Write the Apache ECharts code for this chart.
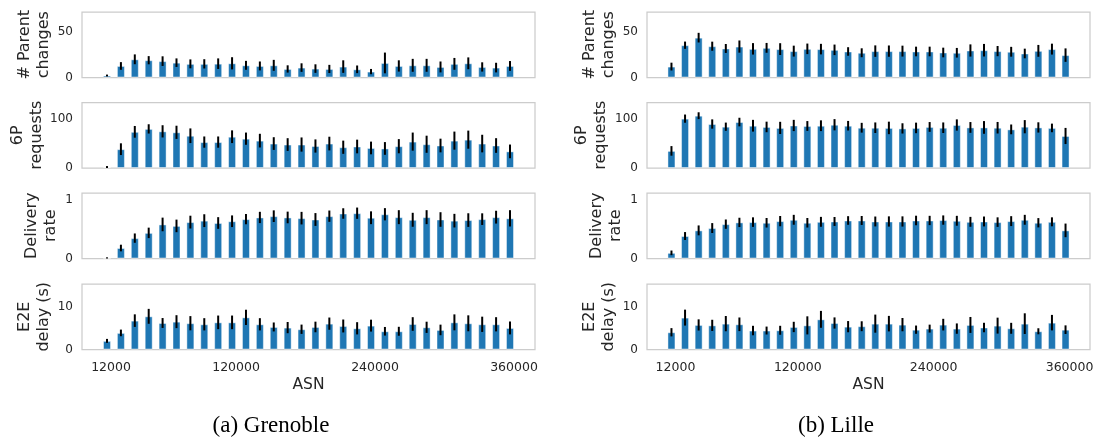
<!DOCTYPE html>
<html><head><meta charset="utf-8">
<script src="https://cdn.jsdelivr.net/npm/echarts@6/dist/echarts.min.js"></script>
<style>html,body{margin:0;padding:0;background:#fff}#c{width:1099px;height:440px}</style>
</head><body><div id="c"></div>
<script>
// ---------- data ----------
const asn = [12000, 24000, 36000, 48000, 60000, 72000, 84000, 96000, 108000, 120000,
  132000, 144000, 156000, 168000, 180000, 192000, 204000, 216000, 228000, 240000,
  252000, 264000, 276000, 288000, 300000, 312000, 324000, 336000, 348000, 360000];
const xTickLabels = [12000, 120000, 240000, 360000];
const metricNames = ['# Parent\nchanges', '6P\nrequests', 'Delivery\nrate', 'E2E\ndelay (s)'];
const yTickLabels = [[0, 50], [0, 100], [0, 1], [0, 10]];
const siteCaptions = ['(a) Grenoble', '(b) Lille'];

// Grenoble
const grenobleParent = [2.2, 12.7, 20, 19, 18, 16.3, 15, 15, 15.2, 15.6, 13.4, 12.7, 13.4, 9.4, 10.9, 9.8, 9.4, 12, 9, 6.5, 16, 12.7, 13.4, 13.4, 11.6, 15, 15.6, 11.6, 10.9, 12.7];
const grenobleParentErr = [1.0, 4.2, 5.4, 4.5, 5.3, 4.7, 4.9, 5.1, 5.8, 6.7, 4.9, 4.9, 6.0, 4.0, 4.7, 4.7, 4.5, 6.9, 4.2, 2.9, 11.4, 6.2, 7.1, 7.1, 6.0, 6.5, 6.5, 5.1, 5.3, 5.4];
const grenobleRequests = [2, 38.5, 74, 80, 75, 73, 66, 53, 53, 64, 60, 56, 50, 48, 48, 45, 50, 42.5, 44, 41, 40, 44.6, 54, 48.6, 46, 56, 58, 50, 46, 34];
const grenobleRequestsErr = [2, 12, 12, 9.5, 12.5, 13.5, 15, 11.5, 11.5, 13, 12.5, 14, 13, 13, 14.5, 13.5, 14, 13.5, 14, 13, 13, 14.5, 18.5, 17.5, 14, 18.5, 18.5, 18, 15, 14];
const grenobleDelivery = [0.01, 0.18, 0.35, 0.44, 0.585, 0.56, 0.625, 0.65, 0.61, 0.64, 0.676, 0.705, 0.727, 0.705, 0.693, 0.67, 0.727, 0.773, 0.778, 0.7, 0.76, 0.71, 0.665, 0.71, 0.67, 0.65, 0.66, 0.676, 0.71, 0.69];
const grenobleDeliveryErr = [0.01, 0.057, 0.08, 0.09, 0.117, 0.108, 0.11, 0.11, 0.1, 0.1, 0.088, 0.097, 0.1, 0.1, 0.108, 0.11, 0.097, 0.09, 0.097, 0.11, 0.105, 0.12, 0.12, 0.12, 0.125, 0.117, 0.117, 0.1, 0.11, 0.14];
const grenobleDelay = [2.0, 3.85, 6.7, 7.7, 6.15, 6.46, 6.1, 5.85, 6.3, 6.3, 7.46, 5.85, 5.23, 5.08, 4.7, 5.23, 6.0, 5.46, 4.92, 5.54, 4.23, 4.23, 5.92, 5.15, 4.54, 6.3, 6.08, 5.85, 5.85, 5.0];
const grenobleDelayErr = [0.46, 0.77, 1.46, 1.73, 1.15, 1.5, 1.65, 1.42, 1.58, 1.58, 1.77, 1.42, 1.04, 1.3, 1.08, 1.23, 1.42, 1.5, 1.42, 1.38, 1.0, 1.04, 1.58, 1.3, 1.23, 1.85, 1.85, 1.77, 1.65, 1.5];

// Lille
const lilleParent = [12, 35.5, 43.8, 34.4, 31.9, 34, 31.5, 32.6, 31.2, 29, 31.5, 31.2, 30.4, 28.6, 27.2, 29, 29, 29, 28.6, 28.6, 27.5, 27.2, 29.7, 30, 29, 28.3, 26.4, 29.3, 31.2, 24.6];
const lilleParentErr = [4.3, 4, 5.3, 5, 4.9, 6.7, 6.3, 5.4, 6.5, 6, 5.8, 5.8, 5.8, 4.7, 4.9, 6.3, 6.2, 6, 5.3, 5.3, 5.3, 5.3, 6.7, 6.9, 5.6, 5.4, 5.3, 6.5, 6, 7.4];
const lilleRequests = [35, 101, 107, 90, 84.5, 94, 86.5, 84, 82, 87, 86, 86.5, 88.5, 86.5, 82.4, 82.4, 82, 81, 82, 84, 82.4, 88, 83, 83, 82.4, 79, 84.5, 83, 82, 65.5];
const lilleRequestsErr = [9.8, 8.4, 7, 9.5, 8.4, 8.8, 12, 10.8, 12.5, 11.5, 10, 11, 11.5, 9.8, 10, 10.8, 12.8, 10.5, 10.8, 10, 10.8, 11.5, 11, 13, 11.8, 10, 13.5, 10.5, 8.8, 16.5];
const lilleDelivery = [0.097, 0.386, 0.483, 0.523, 0.59, 0.62, 0.625, 0.614, 0.642, 0.665, 0.614, 0.63, 0.636, 0.653, 0.653, 0.636, 0.636, 0.636, 0.653, 0.653, 0.66, 0.648, 0.63, 0.636, 0.625, 0.642, 0.665, 0.614, 0.63, 0.483];
const lilleDeliveryErr = [0.04, 0.068, 0.085, 0.085, 0.08, 0.08, 0.082, 0.082, 0.088, 0.085, 0.082, 0.085, 0.077, 0.074, 0.077, 0.085, 0.088, 0.088, 0.082, 0.08, 0.08, 0.085, 0.085, 0.085, 0.082, 0.085, 0.085, 0.08, 0.077, 0.117];
const lilleDelay = [4.0, 7.4, 5.7, 5.6, 6.0, 5.85, 4.4, 4.4, 4.46, 5.23, 5.6, 7.0, 6.15, 5.3, 5.4, 6.0, 6.0, 5.77, 4.6, 4.85, 5.77, 4.85, 5.7, 5.1, 5.54, 4.92, 6.0, 4.23, 6.23, 4.6];
const lilleDelayErr = [0.96, 1.85, 1.3, 1.3, 1.77, 1.58, 1.1, 0.92, 1.04, 1.2, 2.1, 1.96, 1.3, 1.3, 1.15, 2.1, 1.8, 1.54, 0.96, 0.92, 1.35, 1.2, 1.85, 1.1, 1.85, 1.27, 2.4, 0.7, 1.8, 1.0];

const sites = [
  [[grenobleParent, grenobleParentErr], [grenobleRequests, grenobleRequestsErr], [grenobleDelivery, grenobleDeliveryErr], [grenobleDelay, grenobleDelayErr]],
  [[lilleParent, lilleParentErr], [lilleRequests, lilleRequestsErr], [lilleDelivery, lilleDeliveryErr], [lilleDelay, lilleDelayErr]]
];

// ---------- layout / style ----------
const FONT = 'DejaVu Sans';
const TXT = '#262626';
const colLeft = [82, 647], colWidth = [453, 443];
const rowTop = [12, 102.5, 193, 284], rowH = 65.5;
const yMax = [72, 134, 1.125, 15.2];
const nameGaps = [[27, 36, 22, 28], [29, 37, 22, 28]];
const captionX = [271, 836];

const grids = [], xAxes = [], yAxes = [], series = [];
let idx = 0;
for (let c = 0; c < 2; c++) {
  for (let r = 0; r < 4; r++) {
    grids.push({left: colLeft[c], top: rowTop[r], width: colWidth[c], height: rowH,
      show: true, borderColor: '#cccccc', borderWidth: 1.25, backgroundColor: 'transparent'});
    const bottom = r === 3;
    xAxes.push({gridIndex: idx, type: 'value', min: -9600, max: 381600,
      axisLine: {show: false}, axisTick: {show: false}, splitLine: {show: false},
      axisLabel: {show: bottom, customValues: xTickLabels, fontSize: 12.5, color: TXT,
        fontFamily: FONT, margin: 12, padding: [0, 0, 0, 8], formatter: v => String(v)},
      name: bottom ? 'ASN' : '', nameLocation: 'middle', nameGap: 27,
      nameTextStyle: {fontSize: 15.5, color: TXT, fontFamily: FONT}});
    yAxes.push({gridIndex: idx, type: 'value', min: 0, max: yMax[r],
      axisLine: {show: false}, axisTick: {show: false}, splitLine: {show: false},
      axisLabel: {customValues: yTickLabels[r], fontSize: 12, color: TXT, fontFamily: FONT, margin: 9,
        formatter: v => String(v)},
      name: metricNames[r], nameLocation: 'middle', nameGap: nameGaps[c][r],
      nameTextStyle: {fontSize: 16, lineHeight: 19, color: TXT, fontFamily: FONT, align: 'center'}});
    const [vals, errs] = sites[c][r];
    series.push({type: 'bar', xAxisIndex: idx, yAxisIndex: idx, barWidth: 8,
      data: asn.map((x, k) => [x, vals[k]]),
      itemStyle: {color: '#1f77b4', borderColor: 'rgba(255,255,255,0.45)', borderWidth: 1},
      silent: true, animation: false});
    series.push({type: 'custom', xAxisIndex: idx, yAxisIndex: idx, z: 5,
      data: asn.map((x, k) => [x, Math.max(0, vals[k] - errs[k]), vals[k] + errs[k]]),
      encode: {x: 0, y: [1, 2]},
      renderItem: (params, api) => {
        const p1 = api.coord([api.value(0), api.value(1)]);
        const p2 = api.coord([api.value(0), api.value(2)]);
        return {type: 'line', shape: {x1: p1[0], y1: p1[1], x2: p2[0], y2: p2[1]},
          style: {stroke: '#000', lineWidth: 2}};
      }, silent: true, animation: false});
    idx++;
  }
}

const chart = echarts.init(document.getElementById('c'), null, {renderer: 'canvas'});
chart.setOption({
  animation: false,
  textStyle: {fontFamily: FONT},
  grid: grids, xAxis: xAxes, yAxis: yAxes, series: series,
  graphic: siteCaptions.map((t, i) => ({type: 'text', x: captionX[i], y: 426,
    style: {text: t, fontFamily: 'Liberation Serif', fontSize: 23, fill: '#000',
      textAlign: 'center', textVerticalAlign: 'middle'}}))
});
</script></body></html>
